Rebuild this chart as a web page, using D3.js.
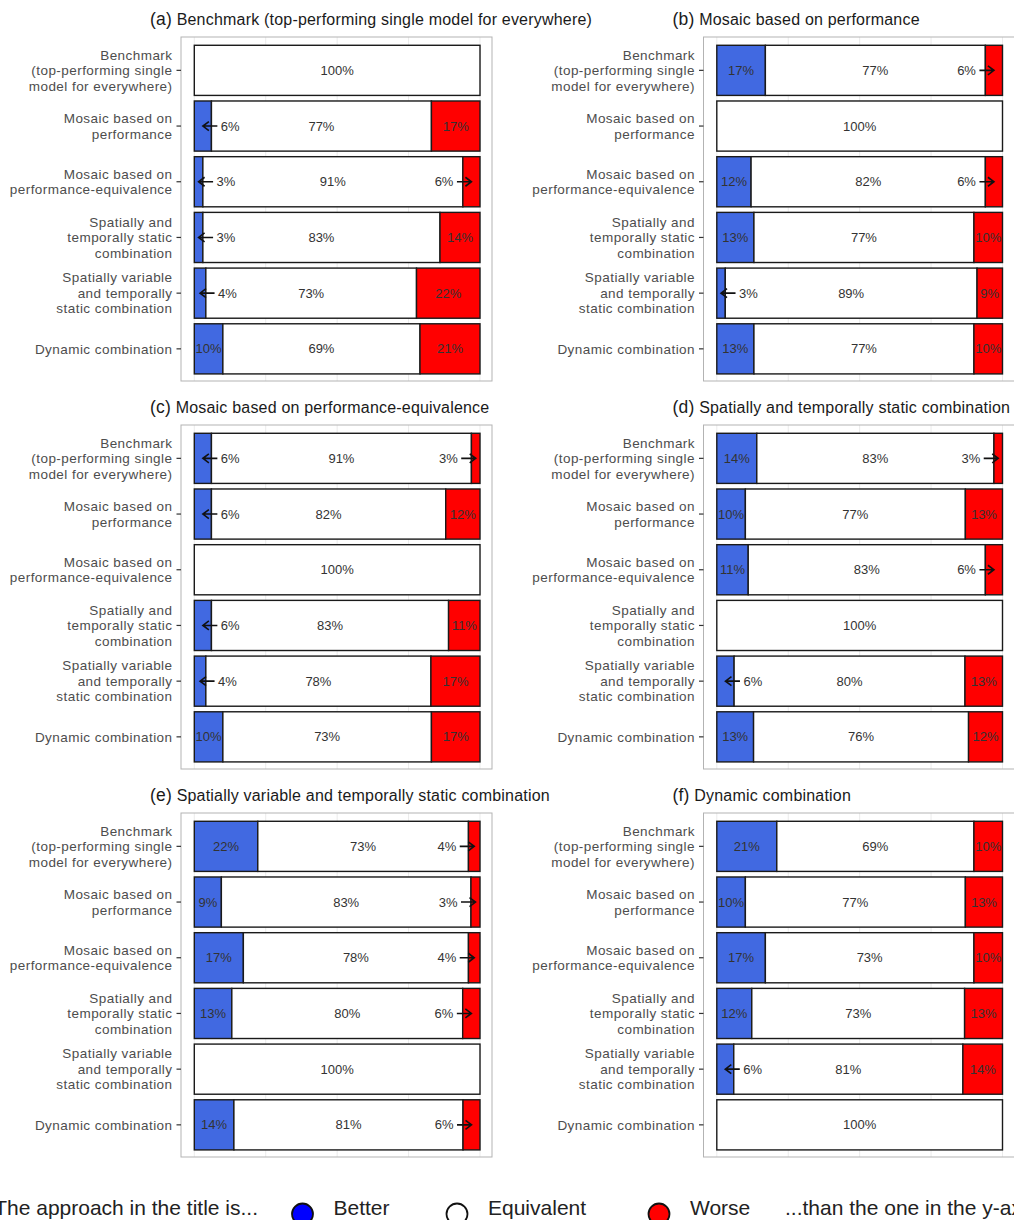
<!DOCTYPE html>
<html lang="en">
<head>
<meta charset="utf-8" />
<title>Pairwise comparison of approaches</title>
<script src="https://cdn.jsdelivr.net/npm/d3@7"></script>
<style>
  html, body { margin:0; padding:0; background:#fff; }
  svg { display:block; font-family:"Liberation Sans", Arial, Helvetica, sans-serif; }
  .ylab { font-size:13.5px; letter-spacing:0.45px; fill:#4d4d4d; }
  .title { font-size:16px; letter-spacing:0.2px; fill:#1a1a1a; }
  .barlab { font-size:13px; fill:#333; }
  .legend text { font-size:21px; fill:#222; }
</style>
</head>
<body>
<div id="chart"></div>
<script>
// --- data ------------------------------------------------------------------
const categories = [
  ["Benchmark", "(top-performing single", "model for everywhere)"],
  ["Mosaic based on", "performance"],
  ["Mosaic based on", "performance-equivalence"],
  ["Spatially and", "temporally static", "combination"],
  ["Spatially variable", "and temporally", "static combination"],
  ["Dynamic combination"]
];

const panelTags = ["(a)", "(b)", "(c)", "(d)", "(e)", "(f)"];
const panelTitles = [
  "Benchmark (top-performing single model for everywhere)",
  "Mosaic based on performance",
  "Mosaic based on performance-equivalence",
  "Spatially and temporally static combination",
  "Spatially variable and temporally static combination",
  "Dynamic combination"
];

// one row per panel, one value per y category (percent)
const better = [
  [0, 6, 3, 3, 4, 10],
  [17, 0, 12, 13, 3, 13],
  [6, 6, 0, 6, 4, 10],
  [14, 10, 11, 0, 6, 13],
  [22, 9, 17, 13, 0, 14],
  [21, 10, 17, 12, 6, 0]
];
const equivalent = [
  [100, 77, 91, 83, 73, 69],
  [77, 100, 82, 77, 89, 77],
  [91, 82, 100, 83, 78, 73],
  [83, 77, 83, 100, 80, 76],
  [73, 83, 78, 80, 100, 81],
  [69, 77, 73, 73, 81, 100]
];
const worse = [
  [0, 17, 6, 14, 22, 21],
  [6, 0, 6, 10, 9, 10],
  [3, 12, 0, 11, 17, 17],
  [3, 13, 6, 0, 13, 12],
  [4, 3, 4, 6, 0, 6],
  [10, 13, 10, 13, 14, 0]
];

const keys = ["better", "equivalent", "worse"];
const legendLabels = ["Better", "Equivalent", "Worse"];
const xTicks = [0, 0.25, 0.5, 0.75, 1];

// --- layout ----------------------------------------------------------------
const W = 1014, H = 1220;
const colors = { better:"#4169E1", equivalent:"#ffffff", worse:"#ff0000" };
const legendColors = { better:"#0000ff", equivalent:"#ffffff", worse:"#ff0000" };

const svg = d3.select("#chart").append("svg")
  .attr("width", W).attr("height", H);

const colDx = [0, 522.5];
const rowDy = 388;

const stack = d3.stack().keys(keys).offset(d3.stackOffsetExpand);

panelTitles.forEach((title, p) => {
  const dx = colDx[p % 2];
  const dy = rowDy * Math.floor(p / 2);
  const g = svg.append("g").attr("transform", `translate(${dx},${dy})`);

  const x = d3.scaleLinear().domain([0, 1]).range([194.3, 480]);
  const y = d3.scaleBand().domain(d3.range(categories.length))
    .range([42.5, 376.7]).paddingInner(0.1).paddingOuter(0.05);

  const panel = { x0:181, x1:492, y0:37, y1:381 };

  // panel background gridlines
  g.selectAll("line.grid").data(xTicks).join("line")
    .attr("x1", d => x(d)).attr("x2", d => x(d))
    .attr("y1", panel.y0).attr("y2", panel.y1)
    .attr("stroke", "#ebebeb").attr("stroke-width", 1);

  // title
  const t = g.append("text").attr("class", "title")
    .attr("x", 150).attr("y", 25);
  t.append("tspan").attr("font-size", "17.5px").text(panelTags[p]);
  t.append("tspan").text(" " + title);

  // stacked bars
  const rows = categories.map((c, i) => ({
    i, better: better[p][i], equivalent: equivalent[p][i], worse: worse[p][i]
  }));
  const series = stack(rows);

  series.forEach(s => {
    const key = s.key;
    g.selectAll(null).data(s.filter(d => d.data[key] > 0)).join("rect")
      .attr("x", d => x(d[0]))
      .attr("width", d => x(d[1]) - x(d[0]))
      .attr("y", d => y(d.data.i))
      .attr("height", y.bandwidth())
      .attr("fill", colors[key])
      .attr("stroke", "#1a1a1a").attr("stroke-width", 1.4);
  });

  // bar labels (small coloured segments get an arrow label)
  series.forEach(s => {
    const key = s.key;
    s.filter(d => d.data[key] > 0).forEach(d => {
      const v = d.data[key];
      const cx = (x(d[0]) + x(d[1])) / 2;
      const cy = y(d.data.i) + y.bandwidth() / 2;
      if (v <= 6 && key !== "equivalent") {
        const dir = key === "better" ? 1 : -1;
        g.append("text").attr("class", "barlab")
          .attr("x", cx + dir * 18).attr("y", cy)
          .attr("dy", "0.35em")
          .attr("text-anchor", dir > 0 ? "start" : "end")
          .text(v + "%");
        const tip = cx;
        const tail = cx + dir * 14.5;
        g.append("path")
          .attr("d", `M${tail},${cy}L${tip},${cy}M${tip + dir * 6},${cy - 4.5}L${tip},${cy}L${tip + dir * 6},${cy + 4.5}`)
          .attr("fill", "none").attr("stroke", "#111").attr("stroke-width", 1.6);
      } else {
        g.append("text").attr("class", "barlab")
          .attr("x", cx).attr("y", cy).attr("dy", "0.35em")
          .attr("text-anchor", "middle")
          .text(v + "%");
      }
    });
  });

  // panel border
  g.append("rect")
    .attr("x", panel.x0).attr("y", panel.y0)
    .attr("width", panel.x1 - panel.x0).attr("height", panel.y1 - panel.y0)
    .attr("fill", "none").attr("stroke", "#b3b3b3").attr("stroke-width", 1);

  // y axis ticks and labels
  categories.forEach((lines, i) => {
    const cy = y(i) + y.bandwidth() / 2;
    g.append("line")
      .attr("x1", panel.x0 - 4.5).attr("x2", panel.x0)
      .attr("y1", cy).attr("y2", cy)
      .attr("stroke", "#333").attr("stroke-width", 1.2);
    const lh = 15.5;
    const lab = g.append("text").attr("class", "ylab")
      .attr("text-anchor", "end");
    lines.forEach((ln, k) => {
      lab.append("tspan")
        .attr("x", 172.5)
        .attr("y", cy + (k - (lines.length - 1) / 2) * lh)
        .attr("dy", "0.35em")
        .text(ln);
    });
  });
});

// --- legend ----------------------------------------------------------------
const lg = svg.append("g").attr("class", "legend");
const ly = 1215;
lg.append("text").attr("x", 258).attr("y", ly)
  .attr("text-anchor", "end").text("The approach in the title is...");
const legendX = [302.5, 457, 659];
keys.forEach((k, i) => {
  lg.append("ellipse").attr("cx", legendX[i]).attr("cy", 1214)
    .attr("rx", 10.5).attr("ry", 10.5)
    .attr("fill", legendColors[k]).attr("stroke", "#111").attr("stroke-width", 1.8);
  lg.append("text").attr("x", legendX[i] + 31).attr("y", ly)
    .text(legendLabels[i]);
});
lg.append("text").attr("x", 785).attr("y", ly)
  .text("...than the one in the y-axis");
</script>
</body>
</html>
